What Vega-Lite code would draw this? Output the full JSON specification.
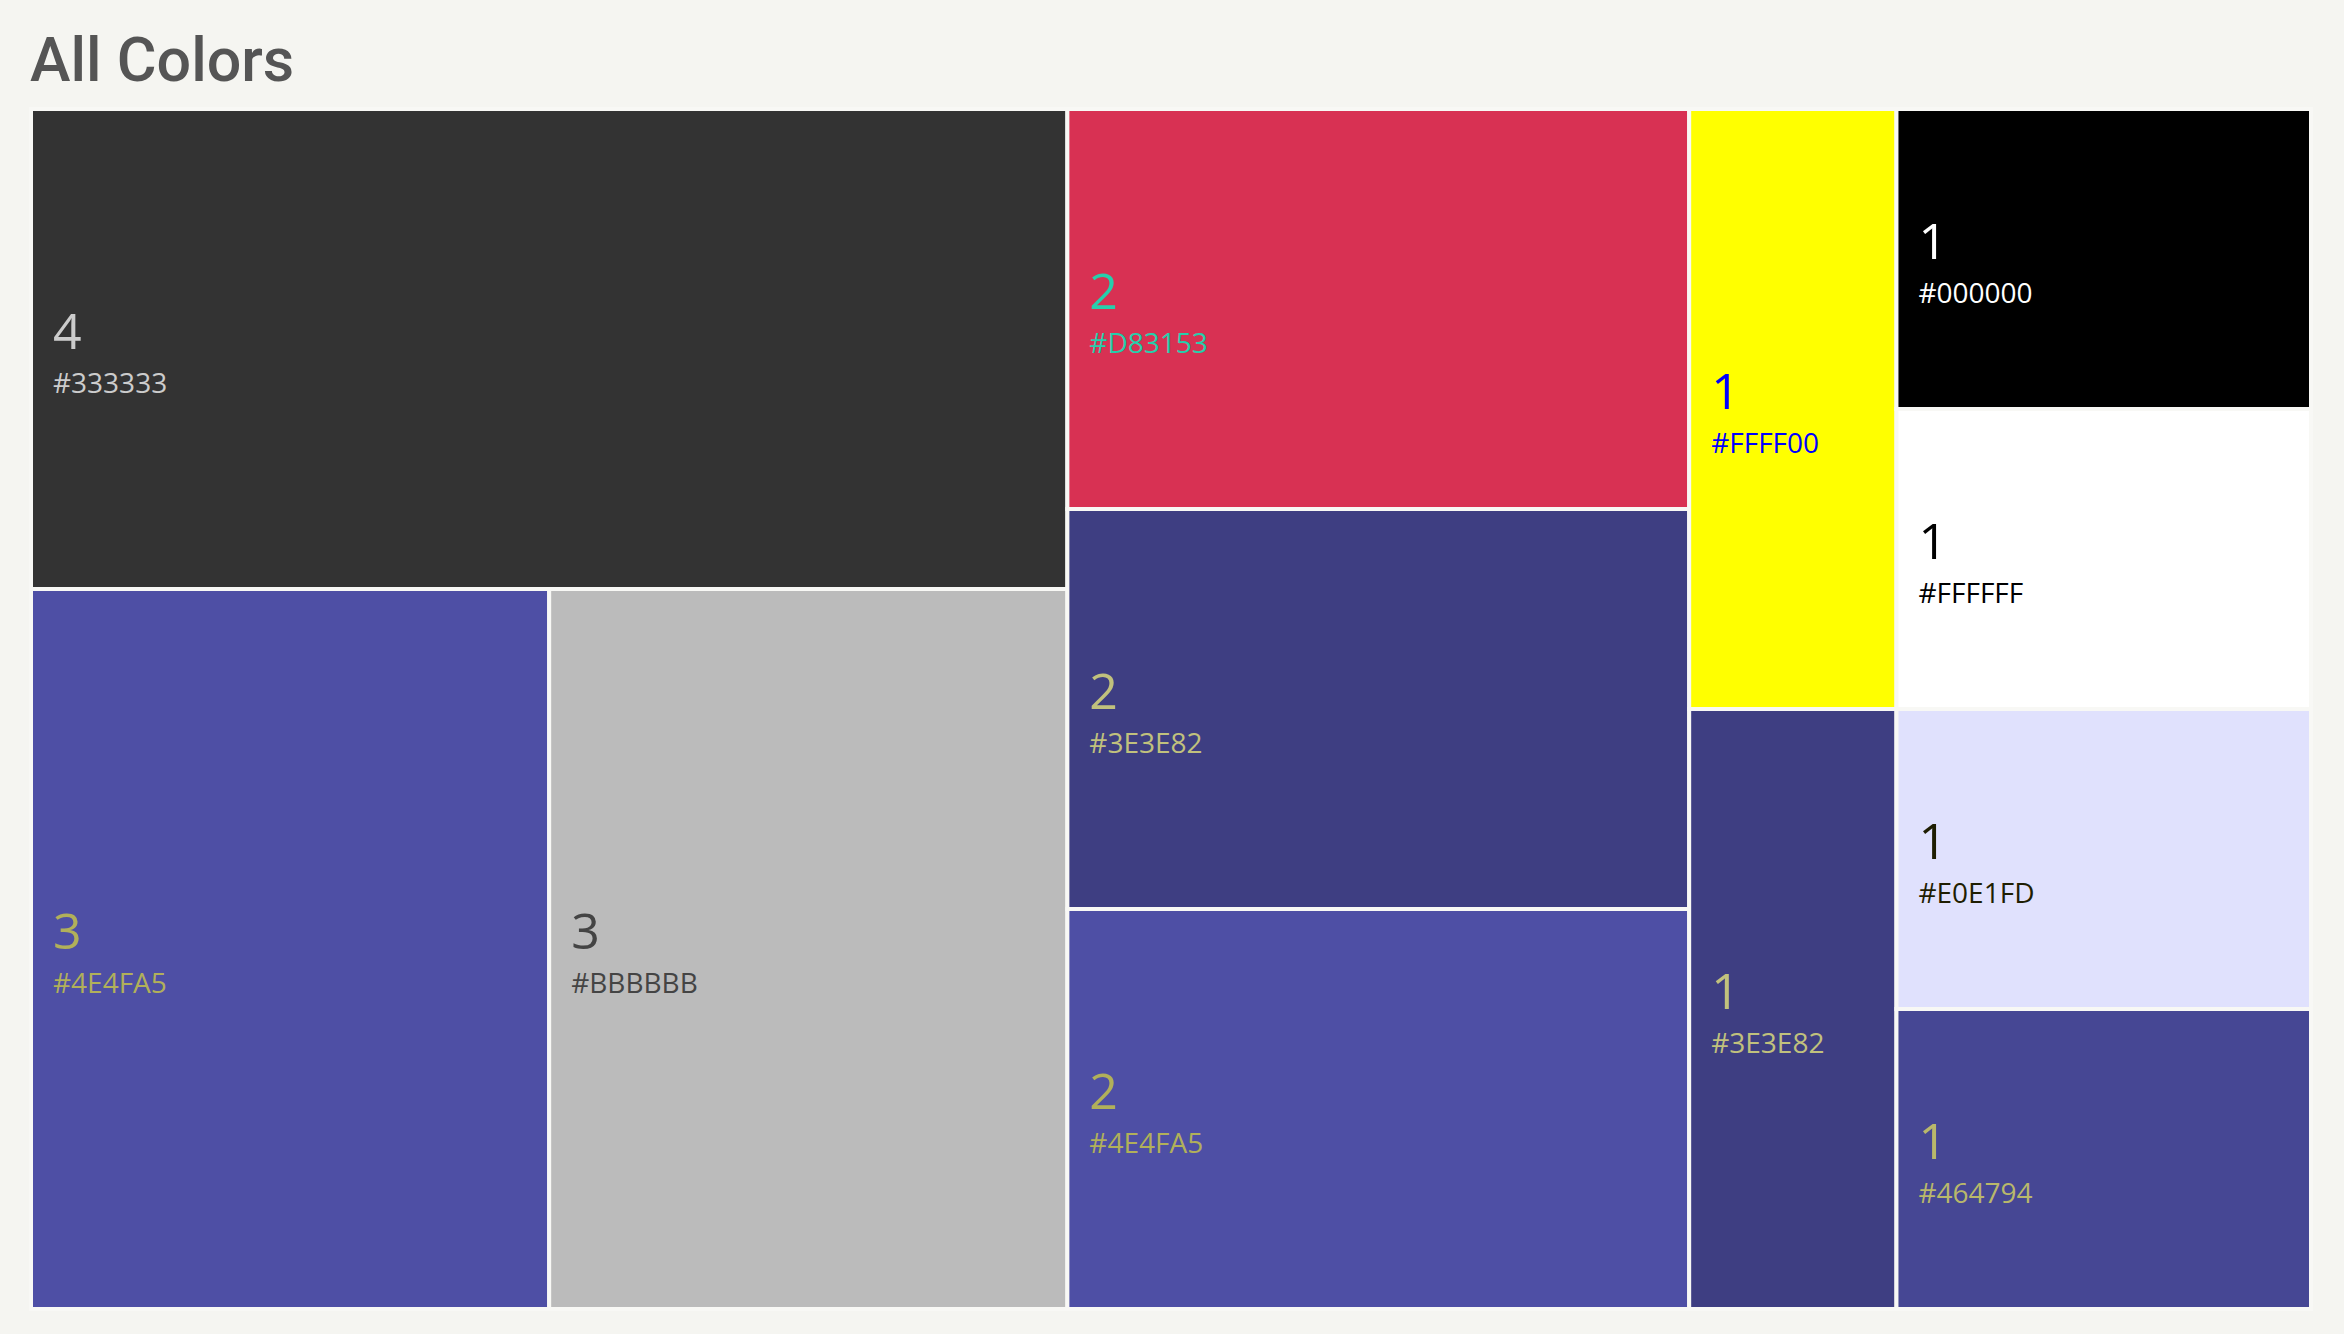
{
  "$schema": "https://vega.github.io/schema/vega-lite/v6.json",
  "width": 2280,
  "height": 1200,
  "autosize": {"type": "none"},
  "padding": {"left": 31, "top": 109, "right": 33, "bottom": 25},
  "background": "#F5F5F1",
  "title": {
    "text": "All Colors",
    "anchor": "start",
    "font": "Roboto",
    "fontSize": 61,
    "fontWeight": 500,
    "color": "#555555",
    "dx": 1,
    "dy": 63,
    "offset": 28,
    "baseline": "alphabetic"
  },
  "data": {
    "values": [
      {"id": 1, "group": "A", "row": 1, "color": "#333333", "value": 4},
      {"id": 2, "group": "A", "row": 2, "color": "#4E4FA5", "value": 3},
      {"id": 3, "group": "A", "row": 2, "color": "#BBBBBB", "value": 3},
      {"id": 4, "group": "B", "row": 1, "color": "#D83153", "value": 2},
      {"id": 5, "group": "B", "row": 2, "color": "#3E3E82", "value": 2},
      {"id": 6, "group": "B", "row": 3, "color": "#4E4FA5", "value": 2},
      {"id": 7, "group": "C", "row": 1, "color": "#FFFF00", "value": 1},
      {"id": 8, "group": "C", "row": 2, "color": "#3E3E82", "value": 1},
      {"id": 9, "group": "D", "row": 1, "color": "#000000", "value": 1},
      {"id": 10, "group": "D", "row": 2, "color": "#FFFFFF", "value": 1},
      {"id": 11, "group": "D", "row": 3, "color": "#E0E1FD", "value": 1},
      {"id": 12, "group": "D", "row": 4, "color": "#464794", "value": 1}
    ]
  },
  "transform": [
    {"joinaggregate": [{"op": "sum", "field": "value", "as": "groupTotal"}], "groupby": ["group"]},
    {"joinaggregate": [{"op": "sum", "field": "value", "as": "rowTotal"}], "groupby": ["group", "row"]},
    {"window": [{"op": "sum", "field": "value", "as": "cumAll"}], "sort": [{"field": "id"}], "frame": [null, 0]},
    {"window": [{"op": "sum", "field": "value", "as": "cumGroup"}], "groupby": ["group"], "sort": [{"field": "id"}], "frame": [null, 0]},
    {"window": [{"op": "sum", "field": "value", "as": "cumRow"}], "groupby": ["group", "row"], "sort": [{"field": "id"}], "frame": [null, 0]},
    {"calculate": "datum.cumAll - datum.cumGroup", "as": "gStart"},
    {"calculate": "datum.gStart + (datum.cumRow - datum.value) / datum.rowTotal * datum.groupTotal", "as": "xa"},
    {"calculate": "datum.gStart + datum.cumRow / datum.rowTotal * datum.groupTotal", "as": "xb"},
    {"calculate": "(datum.cumGroup - datum.cumRow) / datum.groupTotal", "as": "ya"},
    {"calculate": "datum.ya + datum.rowTotal / datum.groupTotal", "as": "yb"},
    {"calculate": "(datum.ya + datum.yb) / 2", "as": "ymid"}
  ],
  "layer": [
    {
      "mark": {"type": "rect", "stroke": "#F8F8F5", "strokeWidth": 4, "opacity": 1},
      "encoding": {
        "x": {"field": "xa", "type": "quantitative", "scale": {"domain": [0, 22]}, "axis": null},
        "x2": {"field": "xb"},
        "y": {"field": "ya", "type": "quantitative", "scale": {"domain": [0, 1], "reverse": true}, "axis": null},
        "y2": {"field": "yb"},
        "fill": {"field": "color", "type": "nominal", "scale": null, "legend": null}
      }
    },
    {
      "mark": {"type": "text", "align": "left", "baseline": "alphabetic", "dx": 22, "font": "Open Sans", "fontSize": 50},
      "encoding": {
        "x": {"field": "xa", "type": "quantitative", "scale": {"domain": [0, 22]}, "axis": null},
        "y": {"field": "ymid", "type": "quantitative", "scale": {"domain": [0, 1], "reverse": true}, "axis": null},
        "text": {"field": "value", "type": "quantitative"},
        "fill": {
          "field": "color",
          "type": "nominal",
          "legend": null,
          "scale": {
            "domain": ["#333333", "#4E4FA5", "#BBBBBB", "#D83153", "#3E3E82", "#FFFF00", "#000000", "#FFFFFF", "#E0E1FD", "#464794"],
            "range": ["#CCCCCC", "#B1B05A", "#444444", "#27CEAC", "#C1C17D", "#0000FF", "#FFFFFF", "#000000", "#1F1E02", "#B9B86B"]
          }
        }
      }
    },
    {
      "mark": {"type": "text", "align": "left", "baseline": "alphabetic", "dx": 22, "dy": 44, "font": "Open Sans", "fontSize": 28},
      "encoding": {
        "x": {"field": "xa", "type": "quantitative", "scale": {"domain": [0, 22]}, "axis": null},
        "y": {"field": "ymid", "type": "quantitative", "scale": {"domain": [0, 1], "reverse": true}, "axis": null},
        "text": {"field": "color", "type": "nominal"},
        "fill": {
          "field": "color",
          "type": "nominal",
          "legend": null,
          "scale": {
            "domain": ["#333333", "#4E4FA5", "#BBBBBB", "#D83153", "#3E3E82", "#FFFF00", "#000000", "#FFFFFF", "#E0E1FD", "#464794"],
            "range": ["#CCCCCC", "#B1B05A", "#444444", "#27CEAC", "#C1C17D", "#0000FF", "#FFFFFF", "#000000", "#1F1E02", "#B9B86B"]
          }
        }
      }
    }
  ],
  "resolve": {"scale": {"fill": "independent"}},
  "config": {"view": {"stroke": null}}
}
